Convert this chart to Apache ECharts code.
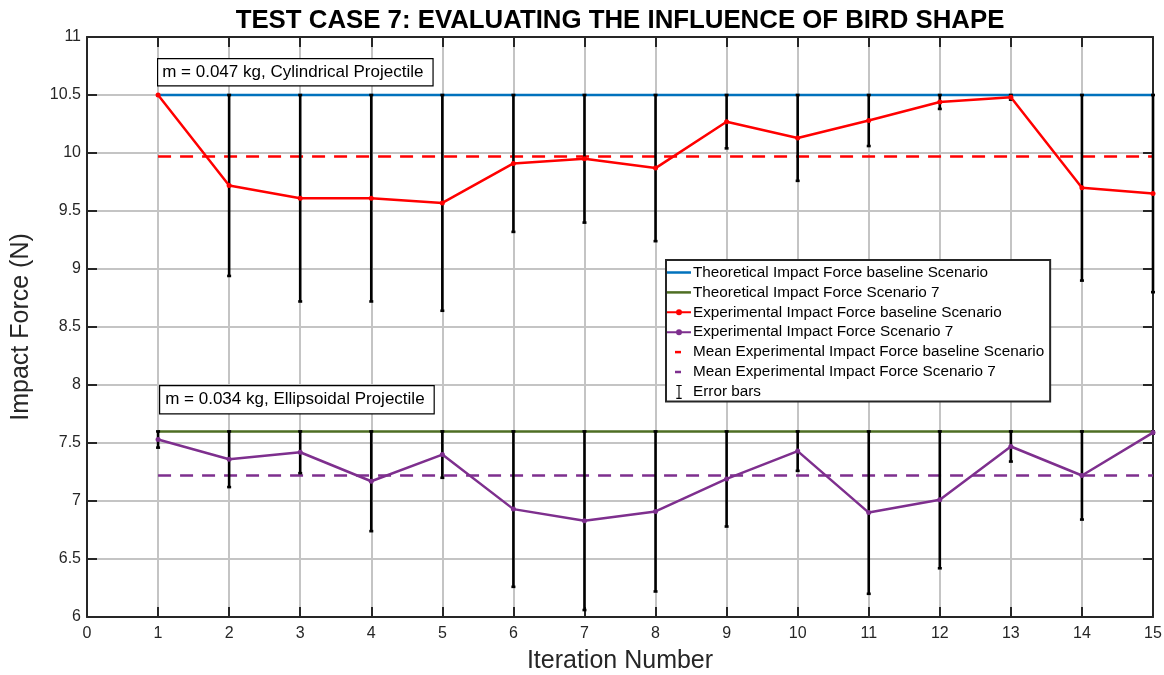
<!DOCTYPE html>
<html>
<head>
<meta charset="utf-8">
<script src="https://cdn.jsdelivr.net/npm/echarts@6/dist/echarts.min.js"></script>
<style>
  html, body { margin: 0; padding: 0; background: #fff; }
  #chart { width: 1164px; height: 675px; }
</style>
</head>
<body>
<div id="chart"></div>
<script>
// iteration numbers 1..15
const iterations = [1, 2, 3, 4, 5, 6, 7, 8, 9, 10, 11, 12, 13, 14, 15]

// experimental impact force (N)
const expBaseline = [10.5, 9.72, 9.61, 9.61, 9.57, 9.91, 9.95, 9.87, 10.27, 10.13, 10.28, 10.44, 10.48, 9.70, 9.65]
const expScenario7 = [7.53, 7.36, 7.42, 7.17, 7.40, 6.93, 6.83, 6.91, 7.19, 7.43, 6.90, 7.01, 7.47, 7.22, 7.59]

// half-length of error bars
const errBaseline = [0, 0.78, 0.89, 0.89, 0.93, 0.59, 0.55, 0.63, 0.23, 0.37, 0.22, 0.06, 0.02, 0.80, 0.85]
const errScenario7 = [0.07, 0.24, 0.18, 0.43, 0.20, 0.67, 0.77, 0.69, 0.41, 0.17, 0.70, 0.59, 0.13, 0.38, 0.01]

// reference levels
const theoBaseline = 10.5
const theoScenario7 = 7.6
const meanBaseline = 9.97
const meanScenario7 = 7.22

const xTicks = [0, 15]
const yTicks = [6, 11]

const FONT = '"Liberation Sans", Arial, sans-serif'
const INK = '#262626'

const chart = echarts.init(document.getElementById('chart'), null, { renderer: 'canvas' })

const flat = (v) => [[iterations[0], v], [iterations[iterations.length - 1], v]]
const pairs = (vals) => iterations.map((x, i) => [x, vals[i]])
const errData = (vals, errs) => iterations.map((x, i) => [x, vals[i], errs[i]])

function renderErr(params, api) {
  const x = api.value(0), y = api.value(1), e = api.value(2)
  if (!e) return null
  const top = api.coord([x, y + e])
  const bot = api.coord([x, y - e])
  const st = { stroke: '#000', lineWidth: 2.6 }
  const c = 2
  return {
    type: 'group',
    children: [
      { type: 'line', shape: { x1: top[0], y1: top[1], x2: bot[0], y2: bot[1] }, style: st },
      { type: 'line', shape: { x1: top[0] - c, y1: top[1], x2: top[0] + c, y2: top[1] }, style: st },
      { type: 'line', shape: { x1: bot[0] - c, y1: bot[1], x2: bot[0] + c, y2: bot[1] }, style: st },
    ],
  }
}

const axisCommon = {
  axisLine: { show: true, onZero: false, lineStyle: { color: INK, width: 2 } },
  axisTick: { show: true, inside: true, length: 10, lineStyle: { color: INK, width: 2 } },
}

// legend icons (the bare moveTo points fix the icon box to 24x14)
const ICON_LINE = 'path://M0,0H24V2.5H0Z'
const ICON_LINE_DOT = 'path://M0,4H24V6H0Z M9,5A3,3,0,1,1,15,5A3,3,0,1,1,9,5Z'
const ICON_DASH = 'path://M0,0M24,14M8,5.75H14V8.25H8Z'
const ICON_BAR = 'path://M0,0H5V1H3V12H5V13H0V12H2V1H0Z'

const option = {
  backgroundColor: '#fff',
  animation: false,
  title: {
    text: 'TEST CASE 7: EVALUATING THE INFLUENCE OF BIRD SHAPE',
    left: 615,
    textAlign: 'center',
    top: 3,
    textStyle: { fontFamily: FONT, fontWeight: 'bold', fontSize: 25.8, color: '#000' },
  },
  grid: { left: 87, right: 11, top: 37, bottom: 58, outerBoundsMode: 'none', containLabel: false },
  legend: {
    orient: 'vertical',
    left: 666,
    top: 260,
    padding: [5, 6, 2, 1],
    itemGap: 4.9,
    itemWidth: 24,
    itemHeight: 14,
    backgroundColor: '#fff',
    borderColor: INK,
    borderWidth: 2,
    borderRadius: 0,
    selectedMode: false,
    textStyle: { fontFamily: FONT, fontSize: 15.3, color: '#000', padding: [0, 0, 0, -3] },
    data: [
      { name: 'Theoretical Impact Force baseline Scenario', icon: ICON_LINE },
      { name: 'Theoretical Impact Force Scenario 7', icon: ICON_LINE },
      { name: 'Experimental Impact Force baseline Scenario', icon: ICON_LINE_DOT },
      { name: 'Experimental Impact Force Scenario 7', icon: ICON_LINE_DOT },
      { name: 'Mean Experimental Impact Force baseline Scenario', icon: ICON_DASH, itemStyle: { color: '#ff0000' } },
      { name: 'Mean Experimental Impact Force Scenario 7', icon: ICON_DASH, itemStyle: { color: '#7e2f8e' } },
      { name: 'Error bars', icon: ICON_BAR, itemStyle: { color: '#000' } },
    ],
  },
  xAxis: [
    {
      type: 'value',
      min: xTicks[0],
      max: xTicks[1],
      interval: 1,
      ...axisCommon,
      axisLabel: { color: INK, fontFamily: FONT, fontSize: 16, margin: 9 },
      splitLine: { show: true, lineStyle: { color: '#c4c4c4', width: 2 } },
      name: 'Iteration Number',
      nameLocation: 'middle',
      nameGap: 32,
      nameTextStyle: { color: INK, fontFamily: FONT, fontSize: 25 },
    },
    {
      type: 'value',
      position: 'top',
      min: xTicks[0],
      max: xTicks[1],
      interval: 1,
      ...axisCommon,
      axisLabel: { show: false },
      splitLine: { show: false },
    },
  ],
  yAxis: [
    {
      type: 'value',
      min: yTicks[0],
      max: yTicks[1],
      interval: 0.5,
      ...axisCommon,
      axisLabel: { color: INK, fontFamily: FONT, fontSize: 16, margin: 6 },
      splitLine: { show: true, lineStyle: { color: '#c4c4c4', width: 2 } },
      name: 'Impact Force (N)',
      nameLocation: 'middle',
      nameGap: 53,
      nameTextStyle: { color: INK, fontFamily: FONT, fontSize: 25 },
    },
    {
      type: 'value',
      position: 'right',
      min: yTicks[0],
      max: yTicks[1],
      interval: 0.5,
      ...axisCommon,
      axisLabel: { show: false },
      splitLine: { show: false },
    },
  ],
  series: [
    {
      name: 'Theoretical Impact Force baseline Scenario',
      type: 'line',
      data: flat(theoBaseline),
      symbol: 'none',
      lineStyle: { color: '#0072bd', width: 2.5 },
      itemStyle: { color: '#0072bd' },
      z: 3,
    },
    {
      name: 'Theoretical Impact Force Scenario 7',
      type: 'line',
      data: flat(theoScenario7),
      symbol: 'none',
      lineStyle: { color: '#4e6e23', width: 2.5 },
      itemStyle: { color: '#4e6e23' },
      z: 3,
    },
    {
      name: 'Mean Experimental Impact Force baseline Scenario',
      type: 'line',
      data: flat(meanBaseline),
      symbol: 'none',
      lineStyle: { color: '#ff0000', width: 2.5, type: [13, 9] },
      itemStyle: { color: '#ff0000' },
      z: 3,
    },
    {
      name: 'Mean Experimental Impact Force Scenario 7',
      type: 'line',
      data: flat(meanScenario7),
      symbol: 'none',
      lineStyle: { color: '#7e2f8e', width: 2.5, type: [13, 9] },
      itemStyle: { color: '#7e2f8e' },
      z: 3,
    },
    {
      name: 'Error bars',
      type: 'custom',
      data: errData(expBaseline, errBaseline),
      renderItem: renderErr,
      encode: { x: 0, y: [1] },
      itemStyle: { color: '#000' },
      z: 4,
    },
    {
      name: 'Error bars',
      type: 'custom',
      data: errData(expScenario7, errScenario7),
      renderItem: renderErr,
      encode: { x: 0, y: [1] },
      itemStyle: { color: '#000' },
      z: 4,
    },
    {
      name: 'Experimental Impact Force baseline Scenario',
      type: 'line',
      data: pairs(expBaseline),
      symbol: 'circle',
      symbolSize: 5,
      lineStyle: { color: '#ff0000', width: 2.5 },
      itemStyle: { color: '#ff0000' },
      z: 5,
    },
    {
      name: 'Experimental Impact Force Scenario 7',
      type: 'line',
      data: pairs(expScenario7),
      symbol: 'circle',
      symbolSize: 5,
      lineStyle: { color: '#7e2f8e', width: 2.5 },
      itemStyle: { color: '#7e2f8e' },
      z: 5,
    },
  ],
  graphic: [
    {
      type: 'text',
      left: 157,
      top: 58,
      z: 10,
      style: {
        text: 'm = 0.047 kg, Cylindrical Projectile',
        font: '17px ' + FONT,
        fill: '#000',
        backgroundColor: '#fff',
        borderColor: '#000',
        borderWidth: 1.2,
        padding: [5, 9, 4, 4],
      },
    },
    {
      type: 'text',
      left: 159,
      top: 385,
      z: 10,
      style: {
        text: 'm = 0.034 kg, Ellipsoidal Projectile',
        font: '17px ' + FONT,
        fill: '#000',
        backgroundColor: '#fff',
        borderColor: '#000',
        borderWidth: 1.2,
        padding: [5, 9, 5, 5],
      },
    },
  ],
}

chart.setOption(option)
window.addEventListener('resize', () => chart.resize())
</script>
</body>
</html>
